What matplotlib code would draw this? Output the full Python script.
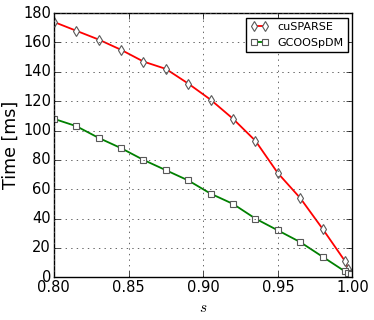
import numpy as np
import matplotlib
matplotlib.use('Agg')
import matplotlib.pyplot as plt

# sparsity s
s = [0.80, 0.815, 0.83, 0.845, 0.86, 0.875, 0.89, 0.905, 0.92,
     0.935, 0.95, 0.965, 0.98, 0.995, 0.997, 0.999]
# time [ms]
cusparse = [174, 168, 162, 155, 147, 142, 132, 121, 108,
            93, 71, 54, 33, 11, 6, 2]
gcoospdm = [108, 103, 95, 88, 80, 73, 66, 57, 50,
            40, 32, 24, 14, 4, 3, 2]

xticks = [0.80, 0.85, 0.90, 0.95, 1.00]
yticks = list(range(0, 181, 20))

plt.style.use('classic')
plt.rcParams['font.family'] = ['DejaVu Sans']

fig = plt.figure(figsize=(3.74, 3.2), dpi=100, facecolor='white')
ax = fig.add_axes([0.144, 0.1334, 0.7985, 0.8256])

ax.plot(s, cusparse, 'r-d', label='cuSPARSE', mfc='white', mec='0.35',
        mew=0.8, ms=5.5, lw=1.3)
ax.plot(s, gcoospdm, 'g-s', label='GCOOSpDM', mfc='white', mec='0.35',
        mew=0.8, ms=5, lw=1.3)

ax.set_xlim(0.80, 1.00)
ax.set_ylim(0, 180)
ax.set_xticks(xticks)
ax.set_yticks(yticks)
ax.set_xticklabels(['%.2f' % x for x in xticks])
ax.tick_params(labelsize=10.5, pad=2)
ax.grid(True, linestyle=':', color='0.3', lw=0.6)

ax.set_xlabel('$s$', fontsize=11)
ax.set_ylabel('Time [ms]', fontsize=12.5)
ax.yaxis.set_label_coords(-0.115, 0.5)
ax.xaxis.set_label_coords(0.5, -0.085)

ax.legend(loc='upper right', fontsize=8, numpoints=2, borderaxespad=0.4,
          handlelength=1.6)

fig.savefig('out.png', dpi=100, facecolor='white')
